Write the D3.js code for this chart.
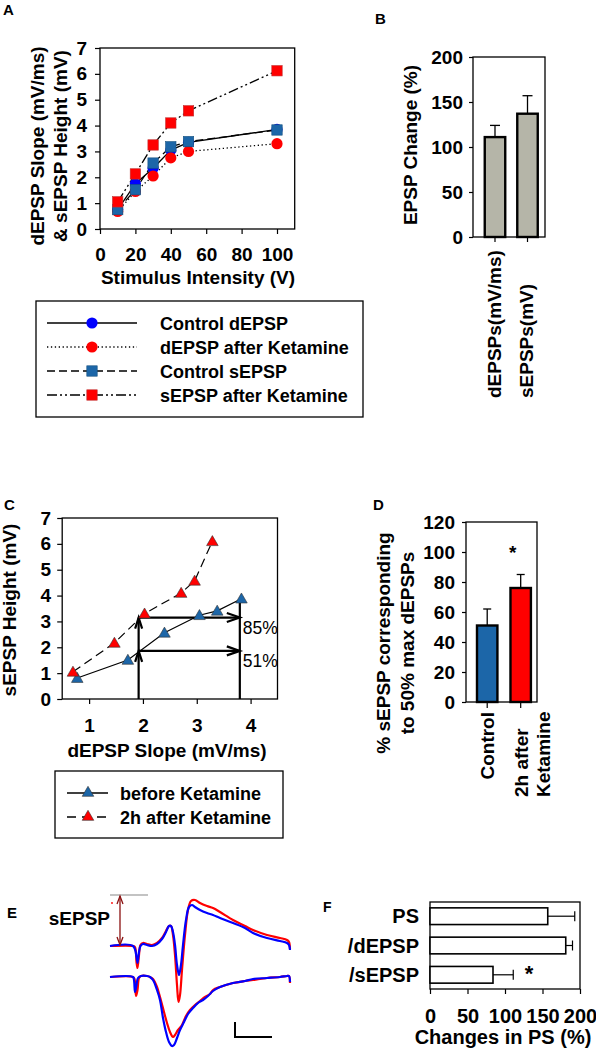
<!DOCTYPE html>
<html><head><meta charset="utf-8">
<script src="https://cdn.jsdelivr.net/npm/d3@7"></script>
<style>
body{margin:0;background:#fff;}
svg{display:block;font-family:"Liberation Sans",Arial,sans-serif;}
</style></head><body>
<svg id="c" width="596" height="1050"></svg>
<script>
// ---------- DATA ----------
// Panel A
const intensities = [10, 20, 30, 40, 50, 100];
const controlDEPSP = [0.75, 1.75, 2.35, 3.05, 3.35, 3.85];
const ketDEPSP = [0.68, 1.45, 2.05, 2.75, 3.0, 3.3];
const controlSEPSP = [0.75, 1.52, 2.55, 3.18, 3.38, 3.83];
const ketSEPSP = [1.05, 2.13, 3.25, 4.1, 4.57, 6.12];
const aSeriesNames = ["Control dEPSP", "dEPSP after Ketamine", "Control sEPSP", "sEPSP after Ketamine"];
const aTicksX = [0, 20, 40, 60, 80, 100];
const aTicksY = [0, 1, 2, 3, 4, 5, 6, 7];
// Panel B
const bCategories = ["dEPSPs(mV/ms)", "sEPSPs(mV)"];
const bValues = [111, 137];
const bErrors = [13, 20];
const bTicks = [0, 50, 100, 150, 200];
// Panel C
const cBeforeX = [0.78, 1.72, 2.4, 3.05, 3.38, 3.83];
const cBeforeY = [0.81, 1.51, 2.56, 3.24, 3.41, 3.88];
const cAfterX = [0.7, 1.47, 2.03, 2.71, 2.96, 3.29];
const cAfterY = [1.05, 2.17, 3.3, 4.1, 4.57, 6.1];
const cSeriesNames = ["before Ketamine", "2h after Ketamine"];
const cGuideX = [1.92, 3.8];
const cLevels = [3.15, 1.86];
const cLevelLabels = ["85%", "51%"];
const cTicksX = [1, 2, 3, 4];
const cTicksY = [0, 1, 2, 3, 4, 5, 6, 7];
// Panel D
const dCategories = [["Control"], ["2h after", "Ketamine"]];
const dValues = [51, 76];
const dErrors = [11, 9];
const dTicks = [0, 20, 40, 60, 80, 100, 120];
// Panel E (time ms, amplitude mV, relative to baseline)
const eTopRed = [[0,0],[2.3,0],[2.5,-0.1],[2.65,-1.6],[2.75,-2.2],[2.9,-0.9],[3.05,0.1],[3.3,0.3],[3.7,0.2],[4.2,0.1],[4.7,0.3],[5.2,0.8],[5.6,1.5],[5.9,2.0],[6.1,2.0],[6.3,1.1],[6.5,-0.9],[6.7,-3.9],[6.85,-5.6],[7.0,-4.9],[7.2,-2.4],[7.5,1.1],[7.8,3.6],[8.1,4.5],[8.5,4.6],[9.0,4.3],[9.7,4.0],[10.3,3.8],[11.0,3.4],[12.3,2.6],[13.5,2.0],[14.3,1.6],[15.7,1.1],[17.0,0.8],[17.7,0.6],[17.9,0.4],[18.0,-0.3]];
const eTopBlue = [[0,0],[2.3,0],[2.65,-1.1],[2.75,-1.7],[2.9,-0.6],[3.05,0],[3.3,0.2],[3.7,0.1],[4.2,0],[4.7,0.2],[5.2,0.7],[5.6,1.4],[5.9,2.0],[6.1,2.0],[6.3,1.4],[6.5,0.1],[6.7,-1.9],[6.9,-2.9],[7.1,-1.9],[7.3,0.1],[7.6,2.6],[7.9,3.9],[8.2,4.1],[8.5,3.9],[9.0,3.6],[9.7,3.3],[10.3,3.1],[11.0,2.8],[12.3,2.3],[13.5,1.8],[14.3,1.3],[15.7,0.8],[17.0,0.5],[17.7,0.3],[17.9,0.1],[18.0,-0.4]];
const eBotRed = [[0,0],[2.3,0],[2.45,-0.2],[2.6,-1.9],[2.75,-1.3],[2.9,-0.1],[3.1,0.1],[3.7,0.1],[4.0,0],[4.3,-0.2],[4.7,-1.0],[5.0,-2.0],[5.4,-3.5],[5.7,-4.6],[6.0,-5.5],[6.3,-6.0],[6.5,-5.8],[6.8,-5.3],[7.2,-4.8],[7.6,-3.9],[8.0,-3.3],[8.5,-2.8],[9.0,-2.4],[9.5,-2.0],[10.0,-1.7],[10.3,-1.3],[11.0,-1.0],[12.3,-0.6],[13.5,-0.4],[14.3,-0.3],[15.7,-0.1],[17.0,0],[17.7,0.1],[17.9,0.1],[18.0,-0.6]];
const eBotBlue = [[0,0],[2.3,0],[2.4,-0.3],[2.5,-1.5],[2.65,-0.8],[2.8,-0.1],[3.1,0.1],[3.7,0.1],[4.0,0],[4.3,-0.3],[4.7,-1.3],[5.0,-2.3],[5.3,-4.1],[5.6,-5.5],[5.9,-6.5],[6.2,-6.9],[6.4,-6.8],[6.7,-6.1],[7.0,-5.3],[7.4,-4.5],[7.8,-3.7],[8.3,-3.1],[8.8,-2.6],[9.3,-2.3],[9.8,-1.9],[10.3,-1.4],[11.0,-1.0],[12.3,-0.6],[13.5,-0.4],[14.3,-0.2],[15.7,-0.1],[17.0,0],[17.7,0.1],[17.9,0.1],[18.0,-0.5]];
const eSEPSPMarker = [0, 3.8, 5.1];   // t0, t1, level
const eArrowT = [1.0];
const eScaleBar = [12.5, 16.2, -6.0, -4.5]; // t0, t1, v0, v1
// Panel F
const fCategories = ["PS", "/dEPSP", "/sEPSP"];
const fValues = [157, 181, 84];
const fErrors = [36, 9, 27];
const fTicks = [0, 50, 100, 150, 200];

// ---------- COLORS ----------
const RED = "#ff0000", BLUE = "#0000ff", STEEL = "#1c66a8", GRAYBAR = "#b5b5a8";

const svg = d3.select("#c");

function styleAxis(g, size) {
  g.attr("font-family", null).attr("font-size", null);
  g.select(".domain").remove();
  g.selectAll(".tick line").attr("stroke", "#000").attr("stroke-width", 1.2);
  g.selectAll(".tick text").attr("font-size", size).attr("font-weight", "bold").attr("fill", "#000");
}
function frame(g, x0, x1, y0, y1) {
  g.append("rect").attr("x", x0).attr("y", y0).attr("width", x1 - x0).attr("height", y1 - y0)
    .attr("fill", "none").attr("stroke", "#000").attr("stroke-width", 1.3);
}
function rotText(g, x, y, t, size, anchor, weight) {
  g.append("text").attr("transform", `translate(${x},${y}) rotate(-90)`)
    .attr("text-anchor", anchor || "middle").attr("dy", "0.35em")
    .attr("font-size", size).attr("font-weight", weight || "bold").text(t);
}
function label(g, x, y, t, size, anchor, weight) {
  return g.append("text").attr("x", x).attr("y", y).attr("text-anchor", anchor || "start")
    .attr("font-size", size).attr("font-weight", weight || "bold").text(t);
}
const fmtInt = d3.format("d");

// ---------- PANEL A ----------
{
  const g = svg.append("g");
  const x = d3.scaleLinear([0, 110], [100, 294.7]);
  const y = d3.scaleLinear([0, 7], [229, 48]);
  frame(g, x.range()[0], x.range()[1], y.range()[1], y.range()[0]);
  styleAxis(g.append("g").attr("transform", `translate(${x(0)},0)`)
    .call(d3.axisLeft(y).tickValues(aTicksY).tickFormat(fmtInt).tickSize(5).tickPadding(8).tickSizeOuter(0)), 19);
  styleAxis(g.append("g").attr("transform", `translate(0,${y(0)})`)
    .call(d3.axisBottom(x).tickValues(aTicksX).tickFormat(fmtInt).tickSize(5).tickPadding(14).tickSizeOuter(0)), 19);
  rotText(g, 37, 146, "dEPSP Slope (mV/ms)", 19);
  rotText(g, 60, 146, "& sEPSP Height (mV)", 19);
  label(g, 198, 284, "Stimulus Intensity (V)", 19, "middle");
  label(g, 3, 15, "A", 15);

  const series = [
    {v: controlDEPSP, dash: null, shape: "circle", color: BLUE},
    {v: ketDEPSP, dash: "1.3,2.6", shape: "circle", color: RED},
    {v: controlSEPSP, dash: "8,4", shape: "square", color: STEEL},
    {v: ketSEPSP, dash: "10,3,2,3,2,3", shape: "square", color: RED}
  ];
  const line = d3.line().x((d, i) => x(intensities[i])).y(d => y(d));
  series.forEach(s => {
    g.append("path").attr("d", line(s.v)).attr("fill", "none").attr("stroke", "#000")
      .attr("stroke-width", 1.3).attr("stroke-dasharray", s.dash);
  });
  function marker(sel, shape, color, cx, cy) {
    if (shape === "circle") sel.append("circle").attr("cx", cx).attr("cy", cy).attr("r", 5.6).attr("fill", color);
    else sel.append("rect").attr("x", cx - 5.2).attr("y", cy - 5.2).attr("width", 10.4).attr("height", 10.4)
      .attr("fill", color).attr("stroke", color === RED ? "#c03030" : "#15507f").attr("stroke-width", 0.6);
  }
  series.forEach(s => s.v.forEach((d, i) => marker(g, s.shape, s.color, x(intensities[i]), y(d))));

  // legend
  const lg = svg.append("g");
  lg.append("rect").attr("x", 36).attr("y", 301).attr("width", 327).attr("height", 116)
    .attr("fill", "none").attr("stroke", "#000").attr("stroke-width", 1.3);
  const ly = d3.scalePoint(aSeriesNames, [323, 395]);
  series.forEach((s, i) => {
    const yy = ly(aSeriesNames[i]);
    lg.append("line").attr("x1", 47).attr("x2", 137).attr("y1", yy).attr("y2", yy).attr("stroke", "#000")
      .attr("stroke-width", 1.3).attr("stroke-dasharray", s.dash);
    marker(lg, s.shape, s.color, 92, yy);
    label(lg, 160, yy + 6.5, aSeriesNames[i], 18);
  });
}

// ---------- PANEL B ----------
{
  const g = svg.append("g");
  const y = d3.scaleLinear([0, 200], [237, 57]);
  const x = d3.scaleBand(bCategories, [478.25, 544.25]).paddingInner(0.37).paddingOuter(0.2);
  frame(g, 473, 545, 57, 237);
  styleAxis(g.append("g").attr("transform", "translate(473,0)")
    .call(d3.axisLeft(y).tickValues(bTicks).tickSize(4).tickPadding(6).tickSizeOuter(0)), 19);
  bCategories.forEach((c, i) => {
    const cx = x(c) + x.bandwidth() / 2;
    g.append("line").attr("x1", cx).attr("x2", cx).attr("y1", 237).attr("y2", 242).attr("stroke", "#000").attr("stroke-width", 1.2);
    g.append("line").attr("x1", cx).attr("x2", cx).attr("y1", y(bValues[i])).attr("y2", y(bValues[i] + bErrors[i])).attr("stroke", "#000").attr("stroke-width", 1.3);
    g.append("line").attr("x1", cx - 5).attr("x2", cx + 5).attr("y1", y(bValues[i] + bErrors[i])).attr("y2", y(bValues[i] + bErrors[i])).attr("stroke", "#000").attr("stroke-width", 1.3);
    g.append("rect").attr("x", x(c)).attr("y", y(bValues[i])).attr("width", x.bandwidth()).attr("height", y(0) - y(bValues[i]))
      .attr("fill", GRAYBAR).attr("stroke", "#000").attr("stroke-width", 2.4);
    rotText(g, cx - 1, 398, c, 19, "start");
  });
  rotText(g, 410, 145, "EPSP Change (%)", 19);
  label(g, 375, 24, "B", 15);
}

// ---------- PANEL C ----------
{
  const g = svg.append("g");
  const x = d3.scaleLinear([0.5, 4.5], [62.2, 277.5]);
  const y = d3.scaleLinear([0, 7], [699, 518]);
  frame(g, x.range()[0], x.range()[1], y.range()[1], y.range()[0]);
  styleAxis(g.append("g").attr("transform", `translate(${x.range()[0]},0)`)
    .call(d3.axisLeft(y).tickValues(cTicksY).tickFormat(fmtInt).tickSize(5).tickPadding(6).tickSizeOuter(0)), 19);
  styleAxis(g.append("g").attr("transform", `translate(0,${y(0)})`)
    .call(d3.axisBottom(x).tickValues(cTicksX).tickFormat(fmtInt).tickSize(5).tickPadding(14.5).tickSizeOuter(0)), 19);
  rotText(g, 9, 610, "sEPSP Height (mV)", 19);
  label(g, 167, 757, "dEPSP Slope (mV/ms)", 19, "middle");
  label(g, 4, 510, "C", 15);

  // guides & arrows
  const GW = 2.2;
  const [gx0, gx1] = cGuideX;
  g.append("line").attr("x1", x(gx0)).attr("x2", x(gx0)).attr("y1", y(0)).attr("y2", y(d3.max(cLevels))).attr("stroke", "#000").attr("stroke-width", GW);
  g.append("line").attr("x1", x(gx1)).attr("x2", x(gx1)).attr("y1", y(0)).attr("y2", y(d3.max(cBeforeY))).attr("stroke", "#000").attr("stroke-width", GW);
  cLevels.forEach((lv, i) => {
    g.append("line").attr("x1", x(gx0)).attr("x2", x(gx1)).attr("y1", y(lv)).attr("y2", y(lv)).attr("stroke", "#000").attr("stroke-width", GW);
    const tx = x(gx1), ty = y(lv);
    g.append("path").attr("d", `M${tx - 13},${ty - 4.5}L${tx},${ty}L${tx - 13},${ty + 4.5}`).attr("fill", "none").attr("stroke", "#000").attr("stroke-width", GW);
    const ux = x(gx0);
    g.append("path").attr("d", `M${ux - 3.5},${ty + 11}L${ux},${ty}L${ux + 3.5},${ty + 11}`).attr("fill", "none").attr("stroke", "#000").attr("stroke-width", GW);
    label(g, x(gx1) + 3, ty + 16, cLevelLabels[i], 17.5, "start", "normal");
  });

  const lineB = d3.line().x((d, i) => x(cBeforeX[i])).y(d => y(d));
  g.append("path").attr("d", lineB(cBeforeY)).attr("fill", "none").attr("stroke", "#000").attr("stroke-width", 1.2);
  g.append("path").attr("d", lineB.x((d, i) => x(cAfterX[i]))(cAfterY)).attr("fill", "none").attr("stroke", "#000").attr("stroke-width", 1.2).attr("stroke-dasharray", "9,5");
  const tri = d3.symbol(d3.symbolTriangle, 58);
  function triMark(sel, color, cx, cy) {
    sel.append("path").attr("d", tri()).attr("transform", `translate(${cx},${cy + 1})`).attr("fill", color).attr("stroke", "#333").attr("stroke-width", 0.6);
  }
  cBeforeY.forEach((d, i) => triMark(g, STEEL, x(cBeforeX[i]), y(d)));
  cAfterY.forEach((d, i) => triMark(g, RED, x(cAfterX[i]), y(d)));

  const lg = svg.append("g");
  lg.append("rect").attr("x", 55).attr("y", 771).attr("width", 228).attr("height", 67).attr("fill", "none").attr("stroke", "#000").attr("stroke-width", 1.3);
  const ly = d3.scalePoint(cSeriesNames, [793, 817]);
  cSeriesNames.forEach((n, i) => {
    const yy = ly(n);
    lg.append("line").attr("x1", 67).attr("x2", 108).attr("y1", yy).attr("y2", yy).attr("stroke", "#000").attr("stroke-width", 1.3).attr("stroke-dasharray", i ? "9,6" : null);
    triMark(lg, i ? RED : STEEL, 88, yy - 1);
    label(lg, 120, yy + 6.5, n, 18);
  });
}

// ---------- PANEL D ----------
{
  const g = svg.append("g");
  const y = d3.scaleLinear([0, 120], [702, 522]);
  const keys = dCategories.map(d => d.join(" "));
  const x = d3.scaleBand(keys, [470.3, 537.6]).paddingInner(0.39).paddingOuter(0.2);
  frame(g, 466, 537, 522, 702);
  styleAxis(g.append("g").attr("transform", "translate(466,0)")
    .call(d3.axisLeft(y).tickValues(dTicks).tickSize(4).tickPadding(7).tickSizeOuter(0)), 19);
  const colors = [STEEL, RED];
  keys.forEach((k, i) => {
    const cx = x(k) + x.bandwidth() / 2;
    const top = y(dValues[i] + dErrors[i]);
    g.append("line").attr("x1", cx).attr("x2", cx).attr("y1", 702).attr("y2", 708).attr("stroke", "#000").attr("stroke-width", 1.2);
    g.append("line").attr("x1", cx).attr("x2", cx).attr("y1", y(dValues[i])).attr("y2", top).attr("stroke", "#000").attr("stroke-width", 1.3);
    g.append("line").attr("x1", cx - 4).attr("x2", cx + 4).attr("y1", top).attr("y2", top).attr("stroke", "#000").attr("stroke-width", 1.3);
    g.append("rect").attr("x", x(k)).attr("y", y(dValues[i])).attr("width", x.bandwidth()).attr("height", y(0) - y(dValues[i]))
      .attr("fill", colors[i]).attr("stroke", "#000").attr("stroke-width", 2.4);
  });
  {
    const c0 = x(keys[0]) + x.bandwidth() / 2;
    rotText(g, c0, 712, dCategories[0][0], 19, "end");
    const c1 = x(keys[1]) + x.bandwidth() / 2;
    rotText(g, c1 + 1, 797, dCategories[1][0], 19, "start");
    rotText(g, c1 + 23, 797, dCategories[1][1], 19, "start");
    label(g, c1 - 8, 559, "*", 19, "middle");
  }
  rotText(g, 383, 643, "% sEPSP corresponding", 19);
  rotText(g, 407, 643, "to 50% max dEPSPs", 19);
  label(g, 373, 510, "D", 15);
}

// ---------- PANEL E ----------
{
  const g = svg.append("g");
  const x = d3.scaleLinear([0, 18], [110, 290]);
  const yT = d3.scaleLinear([0, 1], [946, 936]);
  const yB = d3.scaleLinear([0, 1], [977, 967]);
  const mk = (ys) => d3.line().x(d => x(d[0])).y(d => ys(d[1])).curve(d3.curveCatmullRom.alpha(0.5));
  [[eTopRed, yT, RED], [eTopBlue, yT, BLUE], [eBotRed, yB, RED], [eBotBlue, yB, BLUE]].forEach(([data, ys, col]) => {
    g.append("path").attr("d", mk(ys)(data)).attr("fill", "none").attr("stroke", col).attr("stroke-width", 2.2).attr("stroke-linejoin", "round");
  });
  const [m0, m1, lvl] = eSEPSPMarker;
  g.append("line").attr("x1", x(m0)).attr("x2", x(m1)).attr("y1", yT(lvl)).attr("y2", yT(lvl)).attr("stroke", "#888").attr("stroke-width", 1.2);
  const ax = x(eArrowT[0]);
  const ar = "#8b1010";
  g.append("line").attr("x1", ax).attr("x2", ax).attr("y1", yT(lvl) + 1).attr("y2", yT(0) - 1).attr("stroke", ar).attr("stroke-width", 1.3);
  g.append("path").attr("d", `M${ax - 3},${yT(lvl) + 9}L${ax},${yT(lvl) + 1}L${ax + 3},${yT(lvl) + 9}`).attr("fill", "none").attr("stroke", ar).attr("stroke-width", 1.3);
  g.append("path").attr("d", `M${ax - 3},${yT(0) - 9}L${ax},${yT(0) - 1}L${ax + 3},${yT(0) - 9}`).attr("fill", "none").attr("stroke", ar).attr("stroke-width", 1.3);
  g.append("circle").attr("cx", x(0.2)).attr("cy", yT(4.3)).attr("r", 0.9).attr("fill", RED);
  label(g, 110, 925, "sEPSP", 19, "end");
  label(g, 7, 918, "E", 15);
  const [s0, s1, v0, v1] = eScaleBar;
  g.append("path").attr("d", `M${x(s0)},${yB(v1)}L${x(s0)},${yB(v0)}L${x(s1)},${yB(v0)}`).attr("fill", "none").attr("stroke", "#000").attr("stroke-width", 2);
}

// ---------- PANEL F ----------
{
  const g = svg.append("g");
  const x = d3.scaleLinear([0, 200], [430, 580]);
  const y = d3.scaleBand(fCategories, [902, 989]).paddingInner(0.43).paddingOuter(0.2);
  frame(g, 430, 580, 902, 989);
  styleAxis(g.append("g").attr("transform", "translate(0,989)")
    .call(d3.axisBottom(x).tickValues(fTicks).tickSize(5).tickPadding(15).tickSizeOuter(0)), 20);
  fCategories.forEach((c, i) => {
    const cy = y(c) + y.bandwidth() / 2;
    const e = x(fValues[i] + fErrors[i]);
    g.append("line").attr("x1", x(fValues[i])).attr("x2", e).attr("y1", cy).attr("y2", cy).attr("stroke", "#000").attr("stroke-width", 1.2);
    g.append("line").attr("x1", e).attr("x2", e).attr("y1", cy - 5).attr("y2", cy + 5).attr("stroke", "#000").attr("stroke-width", 1.2);
    g.append("rect").attr("x", x(0)).attr("y", y(c)).attr("width", x(fValues[i]) - x(0)).attr("height", y.bandwidth())
      .attr("fill", "#fff").attr("stroke", "#000").attr("stroke-width", 1.6);
    label(g, 419, cy + 7, c, 20, "end");
  });
  label(g, 529, 981, "*", 22, "middle");
  label(g, 503, 1044, "Changes in PS (%)", 20, "middle");
  label(g, 323, 912, "F", 14);
}
</script>
</body></html>
